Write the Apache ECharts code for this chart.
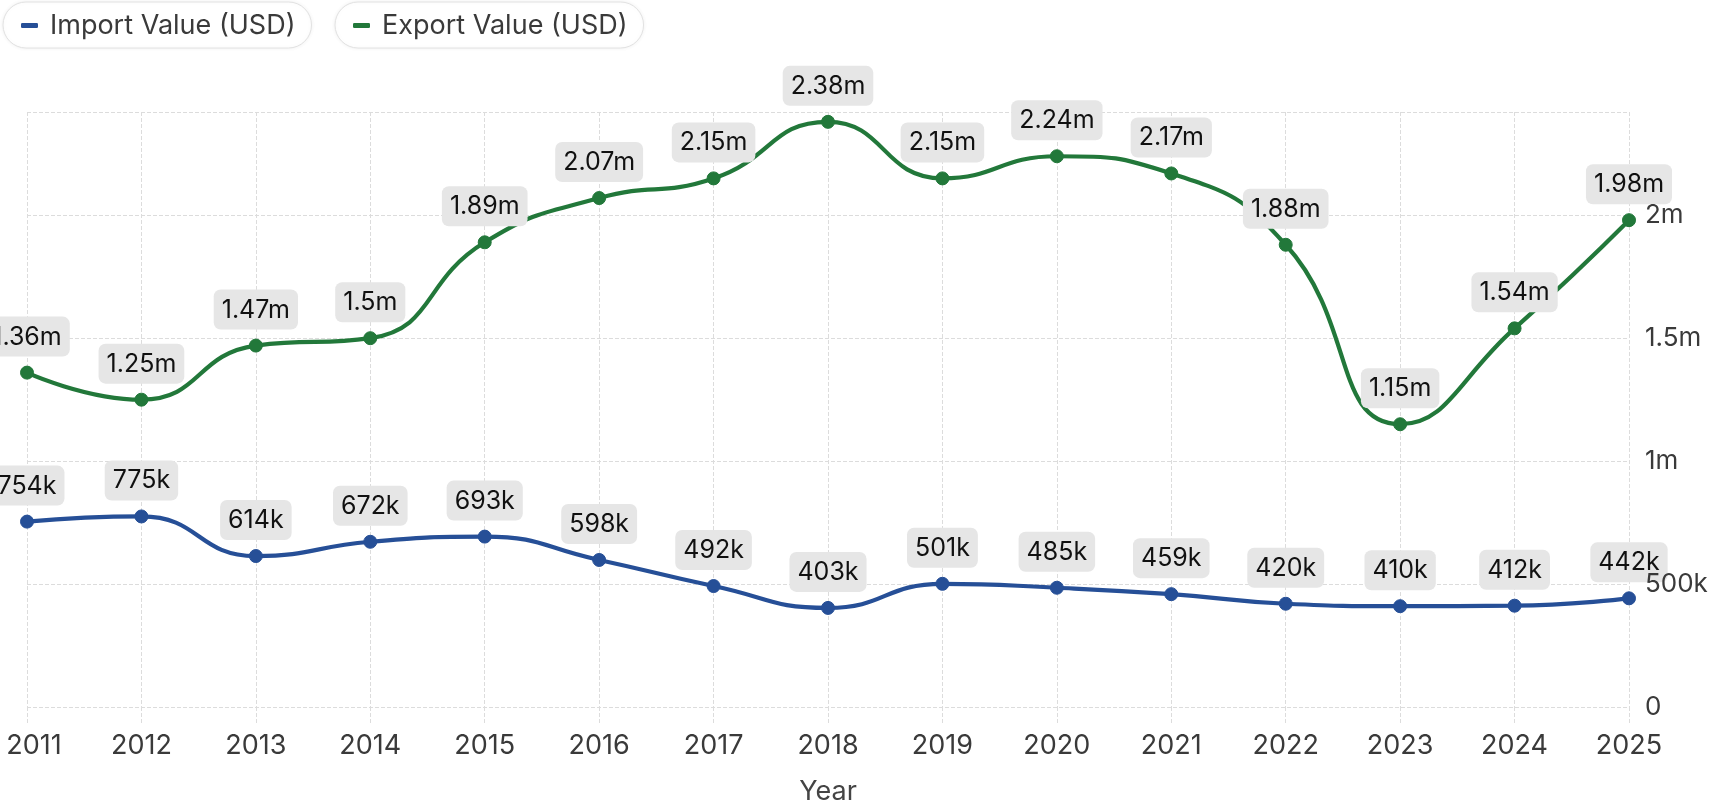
<!DOCTYPE html>
<html>
<head>
<meta charset="utf-8">
<script src="https://cdn.jsdelivr.net/npm/echarts@6/dist/echarts.min.js"></script>
<style>
html,body{margin:0;padding:0;background:#fff;}
#chart{width:1710px;height:806px;}
</style>
</head>
<body>
<div id="chart"></div>
<script>
const years = ['2011','2012','2013','2014','2015','2016','2017','2018','2019','2020','2021','2022','2023','2024','2025'];
const importValues = [754000, 775000, 614000, 672000, 693000, 598000, 492000, 403000, 501000, 485000, 459000, 420000, 410000, 412000, 442000];
const exportValues = [1360000, 1250000, 1470000, 1500000, 1890000, 2070000, 2150000, 2380000, 2150000, 2240000, 2170000, 1880000, 1150000, 1540000, 1980000];
const seriesNames = ['Import Value (USD)', 'Export Value (USD)'];
const seriesColors = ['#264f97', '#22783a'];

function fmt(v) {
  if (v >= 1e6) return (Math.round(v / 1e4) / 100) + 'm';
  if (v >= 1e3) return Math.round(v / 1e3) + 'k';
  return String(v);
}

const chart = echarts.init(document.getElementById('chart'));
const font = 'Inter, "Noto Sans", sans-serif';

function legendBox(name, left) {
  return {
    data: [name],
    left: left, top: 2,
    padding: [10, 16, 9, 18],
    borderColor: '#e2e2e2', borderWidth: 1, borderRadius: 23,
    backgroundColor: '#fff',
    shadowBlur: 4, shadowColor: 'rgba(0,0,0,0.06)',
    icon: 'roundRect', itemWidth: 17, itemHeight: 5,
    textStyle: { fontFamily: font, fontSize: 27, color: '#3a3a3a', padding: [0, 0, 0, 7] },
    selectedMode: false
  };
}

function makeSeries(name, data, color) {
  return {
    name: name, type: 'line', data: data, smooth: true,
    symbol: 'circle', symbolSize: 13,
    lineStyle: { width: 4.2, color: color },
    itemStyle: { color: color, borderColor: color },
    label: {
      show: true, position: 'top', distance: 9,
      formatter: p => fmt(p.value),
      backgroundColor: '#e6e6e6', borderRadius: 7, padding: [8, 8, 7, 8],
      fontFamily: font, fontSize: 25, color: '#111'
    },
    z: 2
  };
}

const yBase = { type: 'value', position: 'right', min: 0, max: 2420000, interval: 500000,
  axisLine: { show: false }, axisTick: { show: false } };

const xData = years.map((y, i) => i === 0 ? { value: y, textStyle: { padding: [0, 0, 0, 14] } } : y);

chart.setOption({
  animation: false,
  backgroundColor: '#fff',
  legend: [legendBox(seriesNames[0], 3), legendBox(seriesNames[1], 335)],
  grid: { left: 27, right: 81, top: 112, bottom: 99, containLabel: false, outerBoundsMode: 'none' },
  xAxis: {
    type: 'category', data: xData, boundaryGap: false,
    name: 'Year', nameLocation: 'middle', nameGap: 71,
    nameTextStyle: { fontFamily: font, fontSize: 27, color: '#444' },
    axisLine: { show: false },
    axisTick: { show: true, length: 18, lineStyle: { type: 'dashed', color: '#dcdcdc' } },
    axisLabel: { fontFamily: font, fontSize: 27, color: '#3a3a3a', margin: 25 },
    splitLine: { show: true, lineStyle: { type: 'dashed', color: '#dcdcdc', width: 1 } }
  },
  yAxis: [
    Object.assign({}, yBase, {
      axisLabel: { show: false },
      splitLine: { show: true, lineStyle: { type: 'dashed', color: '#dcdcdc', width: 1 } }
    }),
    Object.assign({}, yBase, {
      z: 10,
      axisLabel: { fontFamily: font, fontSize: 26, color: '#3a3a3a', margin: 16, showMaxLabel: false, formatter: v => fmt(v) },
      splitLine: { show: false }
    })
  ],
  series: [
    makeSeries(seriesNames[0], importValues, seriesColors[0]),
    makeSeries(seriesNames[1], exportValues, seriesColors[1])
  ]
});
</script>
</body>
</html>
